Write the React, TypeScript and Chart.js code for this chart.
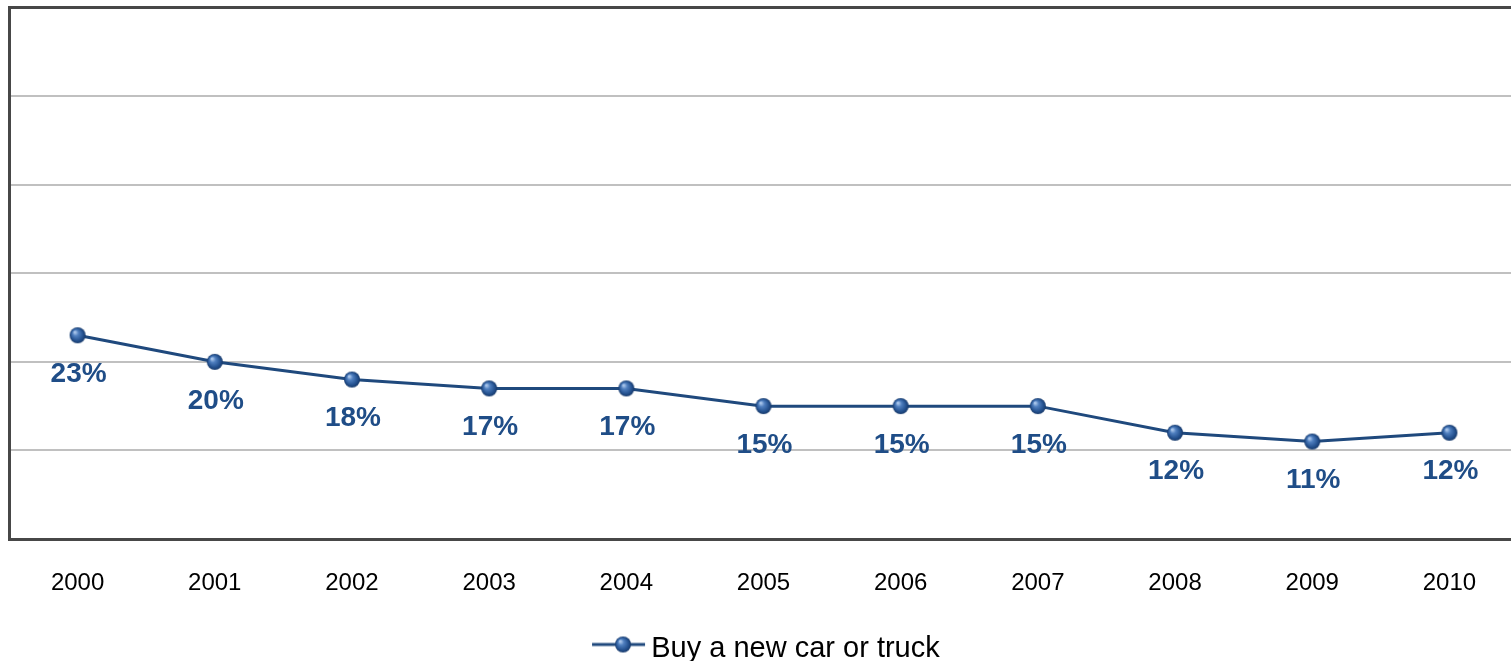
import React, { useEffect, useRef } from "react";
import { Chart, registerables } from "chart.js";

Chart.register(...registerables);

// Survey years and the share who plan to buy a new car or truck (%)
const years = ["2000", "2001", "2002", "2003", "2004", "2005", "2006", "2007", "2008", "2009", "2010"];
const buyNewCarOrTruck = [23, 20, 18, 17, 17, 15, 15, 15, 12, 11, 12];
const seriesName = "Buy a new car or truck";

// Value axis range (no tick labels drawn, gridlines every 10)
const yMin = 0;
const yMax = 60;
const yStep = 10;

const FONT = '"Liberation Sans", Arial, Helvetica, sans-serif';
const LINE_COLOR = "#1f497d";
const LABEL_COLOR = "#1f4d87";
const FRAME_COLOR = "#474747";
const GRID_COLOR = "#c0c0c0";

function paintSphere(ctx: CanvasRenderingContext2D, cx: number, cy: number, r: number) {
  const g = ctx.createRadialGradient(cx - r * 0.35, cy - r * 0.4, r * 0.1, cx, cy, r);
  g.addColorStop(0, "#a7c4ea");
  g.addColorStop(0.3, "#4f7fbf");
  g.addColorStop(0.75, "#24518f");
  g.addColorStop(1, "#17396a");
  ctx.save();
  ctx.filter = "blur(0.6px)";
  ctx.fillStyle = g;
  ctx.beginPath();
  ctx.arc(cx, cy, r, 0, Math.PI * 2);
  ctx.fill();
  ctx.restore();
}

function makeSphere(): HTMLCanvasElement {
  const c = document.createElement("canvas");
  c.width = 20;
  c.height = 20;
  const ctx = c.getContext("2d")!;
  paintSphere(ctx, 10, 10, 8);
  return c;
}

// Legend marker: short line with the sphere on it
function makeLegendMarker(): HTMLCanvasElement {
  const c = document.createElement("canvas");
  c.width = 68;
  c.height = 28;
  const ctx = c.getContext("2d")!;
  const y = 10;
  ctx.strokeStyle = LINE_COLOR;
  ctx.lineWidth = 3;
  ctx.beginPath();
  ctx.moveTo(14, y);
  ctx.lineTo(67, y);
  ctx.stroke();
  paintSphere(ctx, 45, y, 8);
  return c;
}

// Percentage label under every point
const valueLabels = {
  id: "valueLabels",
  afterDatasetsDraw(chart: Chart) {
    const ctx = chart.ctx;
    chart.data.datasets.forEach((ds, di) => {
      const meta = chart.getDatasetMeta(di);
      meta.data.forEach((pt: any, i: number) => {
        ctx.save();
        ctx.font = `bold 28px ${FONT}`;
        ctx.fillStyle = LABEL_COLOR;
        ctx.textAlign = "center";
        ctx.textBaseline = "middle";
        ctx.fillText(`${ds.data[i]}%`, pt.x + 1, pt.y + 39);
        ctx.restore();
      });
    });
  },
};

export default function App() {
  const canvasRef = useRef<HTMLCanvasElement | null>(null);

  useEffect(() => {
    const canvas = canvasRef.current;
    if (!canvas) return;
    const sphere = makeSphere();
    const legendMarker = makeLegendMarker();

    const chart = new Chart(canvas, {
      type: "line",
      data: {
        labels: years,
        datasets: [
          {
            label: seriesName,
            data: buyNewCarOrTruck,
            borderColor: LINE_COLOR,
            backgroundColor: LINE_COLOR,
            borderWidth: 3,
            tension: 0,
            pointStyle: sphere,
            pointRadius: 8,
            pointHoverRadius: 8,
          },
        ],
      },
      options: {
        responsive: false,
        animation: false,
        events: [],
        layout: { autoPadding: false, padding: { left: 9, top: 7.5, right: 0, bottom: 0 } },
        scales: {
          x: {
            offset: true,
            grid: { display: false, drawTicks: false },
            border: { display: true, color: FRAME_COLOR, width: 3 },
            ticks: {
              color: "#000000",
              font: { family: FONT, size: 24 },
              padding: 30,
              maxRotation: 0,
              autoSkip: false,
            },
            afterFit(scale: any) {
              scale.height = 95;
            },
          },
          y: {
            min: yMin,
            max: yMax,
            ticks: { display: false, stepSize: yStep },
            grid: {
              drawTicks: false,
              color: (ctx: any) =>
                ctx.tick && (ctx.tick.value === yMax || ctx.tick.value === yMin) ? FRAME_COLOR : GRID_COLOR,
              lineWidth: (ctx: any) =>
                ctx.tick && (ctx.tick.value === yMax || ctx.tick.value === yMin) ? 3 : 2,
            },
            border: { display: true, color: FRAME_COLOR, width: 3 },
          },
        },
        plugins: {
          tooltip: { enabled: false },
          legend: {
            display: true,
            position: "bottom",
            labels: {
              usePointStyle: true,
              pointStyleWidth: 49.5,
              padding: 0,
              color: "#000000",
              font: { family: FONT, size: 29 },
              generateLabels: (c: Chart) => {
                const items = Chart.defaults.plugins.legend.labels.generateLabels(c);
                items.forEach((it: any) => {
                  it.pointStyle = legendMarker;
                });
                return items;
              },
            },
          },
        },
      },
      plugins: [valueLabels],
    });

    return () => chart.destroy();
  }, []);

  return (
    <div
      style={{
        position: "fixed",
        left: 0,
        top: 0,
        width: 1511,
        height: 661,
        overflow: "hidden",
        background: "#ffffff",
      }}
    >
      <canvas ref={canvasRef} width={1518} height={673} style={{ display: "block" }} />
    </div>
  );
}
